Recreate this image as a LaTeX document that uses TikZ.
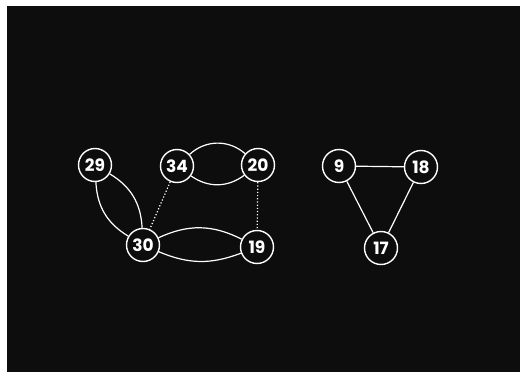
\documentclass[tikz,border=0pt]{standalone}
\usepackage{fontspec}
\setmainfont{Poppins}
\begin{document}
\begin{tikzpicture}[x=1pt,y=-1pt,
  vert/.style={circle,draw=white,line width=1.4pt,minimum size=33pt,inner sep=0pt,text=white,font=\fontsize{17}{17}\selectfont\bfseries},
  edge/.style={draw=white,line width=1.2pt},
  dotedge/.style={draw=white,line width=1.2pt,dotted}]
\fill[white] (0,0) rectangle (520,372);
\fill[black!95] (7,6) rectangle (520,372);
\useasboundingbox (0,0) rectangle (520,372);
\node[vert] (n29) at (95,165) {29};
\node[vert] (n34) at (177,166) {34};
\node[vert] (n20) at (258,165) {20};
\node[vert] (n30) at (143,245) {30};
\node[vert] (n19) at (257,247) {19};
\node[vert] (n9) at (339,166) {9};
\node[vert] (n18) at (421,167) {18};
\node[vert] (n17) at (381,248) {17};
\draw[edge] (n29) to[bend left=28] (n30);
\draw[edge] (n29) to[bend right=28] (n30);
\draw[edge] (n34) to[bend left=42] (n20);
\draw[edge] (n34) to[bend right=36] (n20);
\draw[edge] (n30) to[bend left=26] (n19);
\draw[edge] (n30) to[bend right=22] (n19);
\draw[dotedge] (n34) -- (n30);
\draw[dotedge] (n20) -- (n19);
\draw[edge] (n9) -- (n18);
\draw[edge] (n9) -- (n17);
\draw[edge] (n18) -- (n17);
\end{tikzpicture}
\end{document}
